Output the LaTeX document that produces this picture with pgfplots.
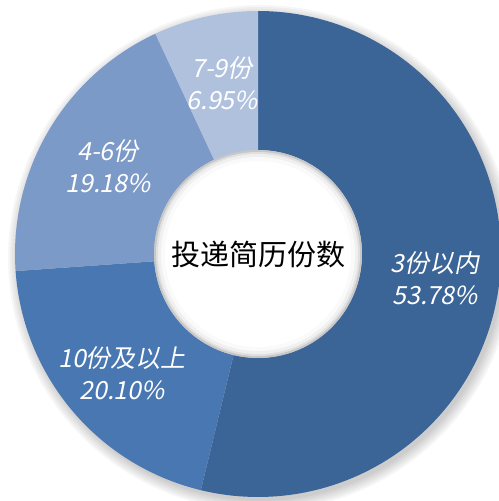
\documentclass[border=0pt]{standalone}
\usepackage{pgfplots}
\pgfplotsset{compat=1.18}
\usepgfplotslibrary{fillbetween}
\usepackage{fontspec}
\setmainfont{Noto Sans CJK SC}
\newfontfamily\lbl[FakeSlant=0.2]{Noto Sans CJK SC}
\definecolor{cA}{HTML}{3C6597}
\definecolor{cB}{HTML}{4877B1}
\definecolor{cC}{HTML}{7C9AC7}
\definecolor{cD}{HTML}{B0C1DE}
% shares (percent)
\def\pA{53.78}\def\pB{20.10}\def\pC{19.18}\def\pD{6.95}
\pgfmathsetmacro\aO{90}
\pgfmathsetmacro\aA{\aO-3.6*\pA}
\pgfmathsetmacro\aB{\aA-3.6*\pB}
\pgfmathsetmacro\aC{\aB-3.6*\pC}
\pgfmathsetmacro\aD{\aC-3.6*\pD}
\def\Ro{243}\def\Ri{104}
\newcommand\ringseg[4]{%
  \addplot[draw=none, name path=o#4, domain=#2:#1, samples=150] ({\Ro*cos(x)},{\Ro*sin(x)});
  \addplot[draw=none, name path=i#4, domain=#2:#1, samples=150] ({\Ri*cos(x)},{\Ri*sin(x)});
  \addplot[fill=#3, draw=none] fill between[of=o#4 and i#4];
}
\newcommand\shadowring[1]{%
  \addplot[fill=black, draw=none, opacity=0.035, domain=0:360, samples=180] ({3+(\Ro+#1)*cos(x)},{-4+(\Ro+#1)*sin(x)}) -- cycle;
}
\newcommand\holering[2]{%
  \addplot[fill=#2, draw=none, domain=0:360, samples=180] ({(\Ri-#1)*cos(x)},{(\Ri-#1)*sin(x)}) -- cycle;
}
\begin{document}
\begin{tikzpicture}
\begin{axis}[
  width=499bp, height=501bp, scale only axis,
  xmin=-258, xmax=241, ymin=-247, ymax=254,
  hide axis, clip=true,
  fill between/on layer=main,
]
\shadowring{0}\shadowring{2}\shadowring{4}\shadowring{6}\shadowring{8}\shadowring{10}
\ringseg{\aO}{\aA}{cA}{a}
\ringseg{\aA}{\aB}{cB}{b}
\ringseg{\aB}{\aC}{cC}{c}
\ringseg{\aC}{\aD}{cD}{d}
\holering{0}{black!22}
\holering{2}{black!12}
\holering{4}{black!6}
\holering{7}{black!2}
\holering{11}{white}
\node[font=\fontsize{29bp}{32bp}\selectfont, text=black] at (axis cs:0,0) {投递简历份数};
\node[align=center, text=white, font=\lbl\fontsize{25bp}{32bp}\selectfont] at (axis cs:177,-24) {3份以内\\53.78\%};
\node[align=center, text=white, font=\lbl\fontsize{25bp}{32bp}\selectfont] at (axis cs:-136,-119) {10份及以上\\20.10\%};
\node[align=center, text=white, font=\lbl\fontsize{25bp}{32bp}\selectfont] at (axis cs:-150,88) {4-6份\\19.18\%};
\node[align=center, text=white, font=\lbl\fontsize{25bp}{32bp}\selectfont] at (axis cs:-36,171) {7-9份\\6.95\%};
\end{axis}
\pgfresetboundingbox
\path (current axis.south west) rectangle (current axis.north east);
\end{tikzpicture}
\end{document}
